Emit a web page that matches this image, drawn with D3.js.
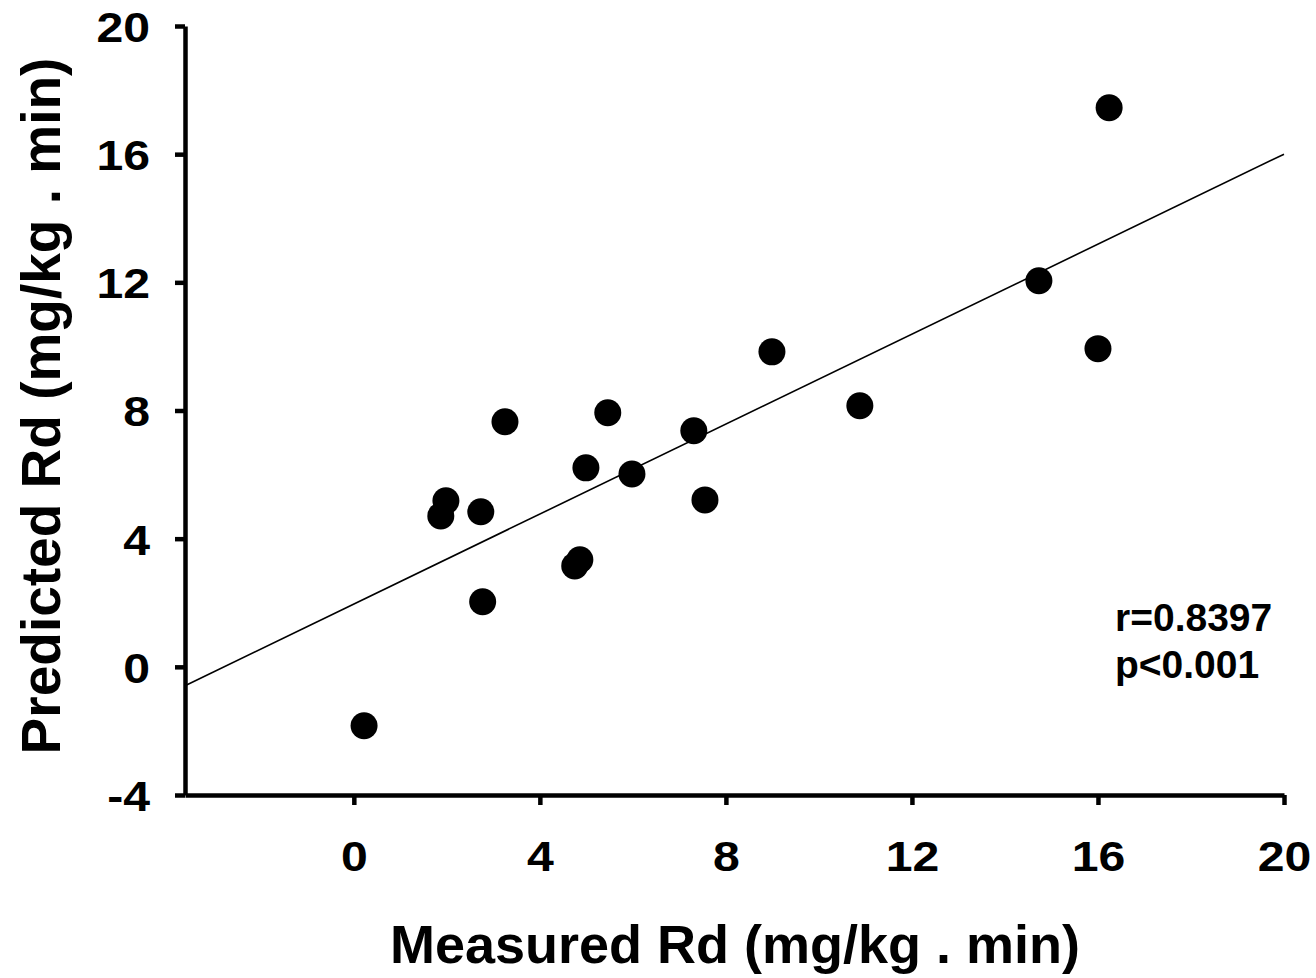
<!DOCTYPE html>
<html>
<head>
<meta charset="utf-8">
<script src="https://cdn.jsdelivr.net/npm/d3@7"></script>
<style>
  html, body { margin: 0; padding: 0; background: #fff; }
  svg text { font-family: "Liberation Sans", Arial, sans-serif; font-weight: bold; fill: #000; }
</style>
</head>
<body>
<svg id="chart" width="1316" height="978"></svg>
<script>
// Data
const measuredRd  = [0.22, 1.87, 1.98, 2.73, 2.77, 3.25, 4.75, 4.86, 4.99, 5.46, 5.98, 7.31, 7.55, 8.99, 10.88, 14.73, 16.0, 16.24];
const predictedRd = [-1.84, 4.71, 5.18, 4.84, 2.03, 7.65, 3.15, 3.34, 6.21, 7.93, 6.02, 7.37, 5.21, 9.83, 8.15, 12.05, 9.93, 17.45];
const xTicks = [0, 4, 8, 12, 16, 20];
const yTicks = [-4, 0, 4, 8, 12, 16, 20];
const xDomain = [-3.63, 20];
const yDomain = [-4, 20];
const fitSlope = 0.702;
const fitIntercept = 1.96;
const statLines = ["r=0.8397", "p<0.001"];
const xTitle = "Measured Rd (mg/kg . min)";
const yTitle = "Predicted Rd (mg/kg . min)";

const svg = d3.select("#chart");
const x = d3.scaleLinear().domain(xDomain).range([185, 1284]);
const y = d3.scaleLinear().domain(yDomain).range([795, 26]);

// Regression line
const lx0 = xDomain[0], lx1 = xDomain[1];
svg.append("line")
  .attr("x1", x(lx0)).attr("y1", y(fitSlope * lx0 + fitIntercept))
  .attr("x2", x(lx1)).attr("y2", y(fitSlope * lx1 + fitIntercept))
  .attr("stroke", "#000").attr("stroke-width", 1.6);

// Points
svg.append("g").selectAll("circle")
  .data(measuredRd.map((m, i) => [m, predictedRd[i]]))
  .join("circle")
  .attr("cx", d => x(d[0]))
  .attr("cy", d => y(d[1]))
  .attr("r", 13.5)
  .attr("fill", "#000");

// Axes
const fmt = d => String(d); // plain hyphen-minus, as in the reference
const xAxis = d3.axisBottom(x).tickValues(xTicks).tickSize(10).tickSizeOuter(0).tickPadding(35).tickFormat(fmt);
const yAxis = d3.axisLeft(y).tickValues(yTicks).tickSize(10).tickSizeOuter(0).tickPadding(25).tickFormat(fmt);

const gx = svg.append("g").attr("transform", `translate(0,${y(yDomain[0])})`).call(xAxis);
const gy = svg.append("g").attr("transform", `translate(${x(xDomain[0])},0)`).call(yAxis);

[gx, gy].forEach(g => {
  g.select(".domain").attr("stroke", "#000").attr("stroke-width", 4.5);
  g.selectAll(".tick line").attr("stroke", "#000").attr("stroke-width", 4.5);
  g.selectAll(".tick text").style("font-size", "43px").style("font-weight", "bold")
    .attr("fill", "#000").style("font-family", '"Liberation Sans", Arial, sans-serif');
});
gx.selectAll(".tick text").attr("dy", "0.71em");
gy.selectAll(".tick text").attr("dy", "0.36em");
// the reference digits are slightly wide
svg.selectAll(".tick text").each(function () {
  const w = this.getComputedTextLength();
  d3.select(this).attr("textLength", w * 1.12).attr("lengthAdjust", "spacingAndGlyphs");
});

// Axis titles
svg.append("text")
  .attr("x", (385 + 1085) / 2).attr("y", 963)
  .attr("text-anchor", "middle")
  .style("font-size", "54px")
  .text(xTitle);

svg.append("text")
  .attr("transform", `translate(60,${(55 + 757) / 2}) rotate(-90)`)
  .attr("text-anchor", "middle")
  .style("font-size", "55px")
  .text(yTitle);

// Stats
svg.append("g").selectAll("text")
  .data(statLines)
  .join("text")
  .attr("x", 1115)
  .attr("y", (d, i) => 631 + i * 47)
  .style("font-size", "39px")
  .text(d => d);
</script>
</body>
</html>
